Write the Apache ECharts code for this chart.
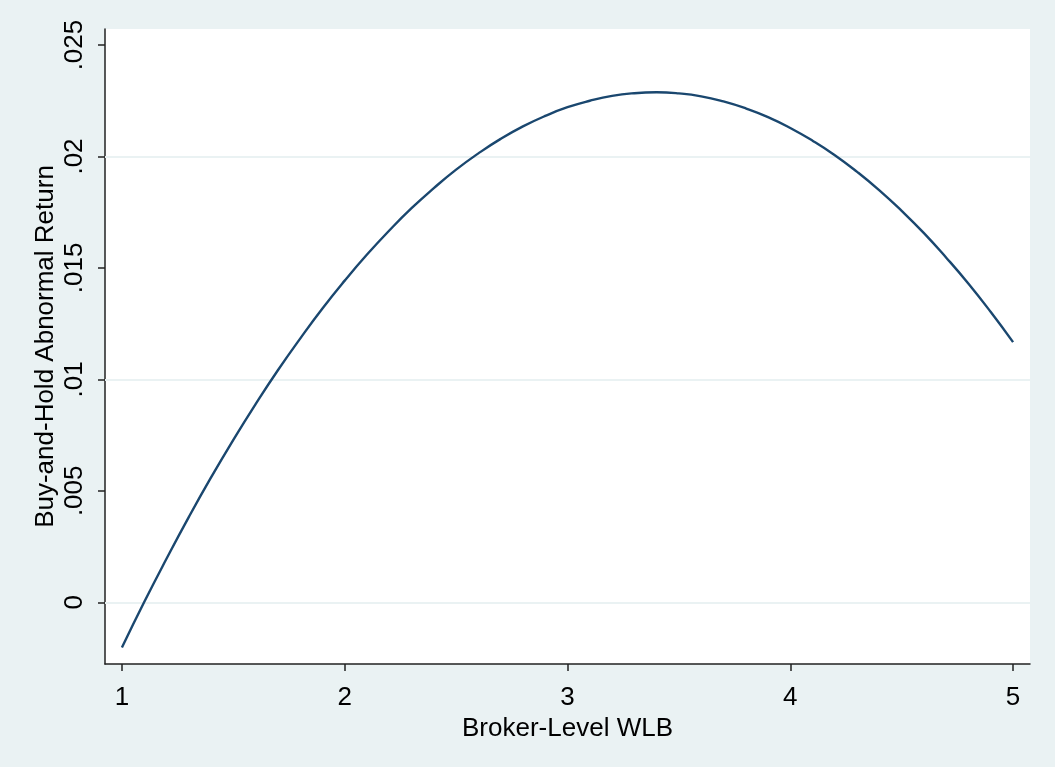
<!DOCTYPE html>
<html>
<head>
<meta charset="utf-8">
<script src="https://cdn.jsdelivr.net/npm/echarts@6/dist/echarts.min.js"></script>
<style>
html,body{margin:0;padding:0;background:#EAF2F3;}
#chart{width:1055px;height:767px;}
</style>
</head>
<body>
<div id="chart"></div>
<script>
// Data
const wlb = [1.0,1.1,1.2,1.3,1.4,1.5,1.6,1.7,1.8,1.9,2.0,2.1,2.2,2.3,2.4,2.5,2.6,2.7,2.8,2.9,3.0,3.1,3.2,3.3,3.4,3.5,3.6,3.7,3.8,3.9,4.0,4.1,4.2,4.3,4.4,4.5,4.6,4.7,4.8,4.9,5.0];
const bhar = [-0.00203,0.00001,0.00195,0.00382,0.00560,0.00729,0.00889,0.01041,0.01183,0.01318,0.01443,0.01560,0.01668,0.01768,0.01858,0.01941,0.02014,0.02079,0.02135,0.02182,0.02221,0.02250,0.02272,0.02284,0.02288,0.02283,0.02270,0.02247,0.02216,0.02177,0.02128,0.02071,0.02006,0.01931,0.01848,0.01756,0.01656,0.01546,0.01429,0.01302,0.01167];
const xTicks = [1,2,3,4,5];
const yTicks = [0,0.005,0.01,0.015,0.02,0.025];
const xTitle = 'Broker-Level WLB';
const yTitle = 'Buy-and-Hold Abnormal Return';

const pts = wlb.map((x,i)=>[x,bhar[i]]);
const fmtY = v => {
  if (Math.abs(v) < 1e-12) return '0';
  return String(+v.toFixed(3)).replace(/^0\./,'.');
};
const font = '"Liberation Sans", Arial, Helvetica, sans-serif';
const G = {left:105, right:25, top:29, bottom:103};

const chart = echarts.init(document.getElementById('chart'));
chart.setOption({
  backgroundColor: '#EAF2F3',
  animation: false,
  grid: {left:G.left, right:G.right, top:G.top, bottom:G.bottom, show:true, backgroundColor:'#ffffff', borderWidth:0},
  graphic: [{
    type:'text', x:46, y:G.top + (767 - G.top - G.bottom)/2, rotation:Math.PI/2, silent:true,
    style:{text:yTitle, fontFamily:font, fontSize:26, fill:'#000', align:'center', verticalAlign:'middle'}
  }],
  xAxis: {
    type:'value', min:0.924, max:5.076,
    name:xTitle, nameLocation:'middle', nameGap:46,
    nameTextStyle:{fontFamily:font, fontSize:26, color:'#000'},
    axisLine:{show:true, onZero:false, lineStyle:{color:'#222', width:1.5}},
    axisTick:{show:true, length:7, lineStyle:{color:'#222', width:1.5}, customValues:xTicks},
    axisLabel:{fontFamily:font, fontSize:26, color:'#000', margin:21, customValues:xTicks, formatter:v=>String(v)},
    splitLine:{show:false}
  },
  yAxis: {
    type:'value', min:-0.00277, max:0.02572,
    axisLine:{show:true, onZero:false, lineStyle:{color:'#222', width:1.5}},
    axisTick:{show:true, length:7, lineStyle:{color:'#222', width:1.5}, customValues:yTicks},
    axisLabel:{fontFamily:font, fontSize:26, color:'#000', rotate:90, margin:17, align:'center', verticalAlign:'bottom', customValues:yTicks, formatter:fmtY},
    splitLine:{show:false}
  },
  series: [
    {
      type:'line', data:pts, smooth:true, showSymbol:false, symbol:'none',
      lineStyle:{color:'#1a476f', width:2.4},
      z:3,
      markLine:{
        silent:true, symbol:'none', label:{show:false}, animation:false,
        lineStyle:{color:'#EAF2F3', width:2, type:'solid'},
        data: yTicks.map(v=>({yAxis:v})),
        z:1
      }
    }
  ]
});
</script>
</body>
</html>
